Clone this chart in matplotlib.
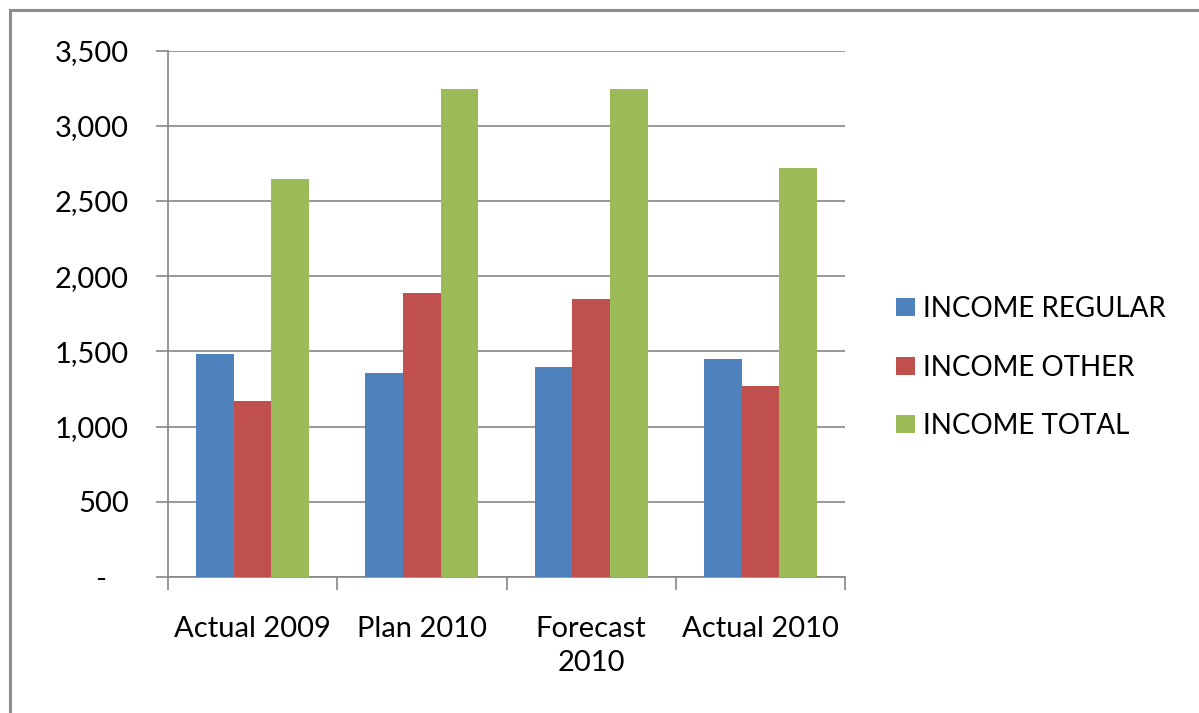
import numpy as np
import matplotlib
matplotlib.use("Agg")
import matplotlib.pyplot as plt
from matplotlib.patches import Rectangle
from matplotlib.ticker import FuncFormatter, FixedLocator

categories = ["Actual 2009", "Plan 2010", "Forecast\n2010", "Actual 2010"]
income_regular = [1480, 1355, 1397, 1450]
income_other = [1167, 1886, 1846, 1271]
income_total = [2645, 3243, 3243, 2717]
series_names = ["INCOME REGULAR", "INCOME OTHER", "INCOME TOTAL"]
colors = ["#4F81BD", "#C0504D", "#9BBB59"]

plt.rcParams['font.family'] = ['Lato', 'DejaVu Sans']

W, H = 1199, 713
fig = plt.figure(figsize=(W / 100, H / 100), dpi=100)
ax = fig.add_axes([168 / W, (H - 577) / H, (845 - 168) / W, (577 - 50.5) / H])

# outer chart border (only top and left visible in the crop)
fig.patches.append(Rectangle((10 / W, -0.2), 1.2, (H - 10) / H + 0.2,
                             transform=fig.transFigure, fill=False,
                             edgecolor="#8c8c8c", lw=2.2, zorder=10))

x = np.arange(len(categories))
bw = 1 / 4.5
for i, (vals, name, c) in enumerate(zip([income_regular, income_other, income_total],
                                         series_names, colors)):
    ax.bar(x + (i - 1) * bw, vals, width=bw, color=c, label=name, zorder=3)

ax.set_xlim(-0.5, len(categories) - 0.5)
ax.set_ylim(0, 3500)
ax.set_yticks(np.arange(0, 3501, 500))
ax.yaxis.set_major_formatter(FuncFormatter(lambda v, p: '-   ' if v == 0 else f'{v:,.0f}'))
ax.grid(axis='y', color='#868686', lw=1.2, zorder=0)

ax.set_xticks(x)
ax.set_xticklabels(categories, linespacing=1.4)
ax.xaxis.set_minor_locator(FixedLocator(np.arange(-0.5, len(categories), 1)))
ax.tick_params(axis='x', which='major', length=0, pad=28, labelsize=21)
ax.tick_params(axis='x', which='minor', length=9, width=1.2, color='#868686')
ax.tick_params(axis='y', length=9, width=1.2, color='#868686', pad=19, labelsize=21)

for s in ['top', 'right']:
    ax.spines[s].set_visible(False)
for s in ['left', 'bottom']:
    ax.spines[s].set_color('#868686')
    ax.spines[s].set_linewidth(1.2)

fig.legend(loc='center left', bbox_to_anchor=(896 / W, (H - 367.5) / H),
           frameon=False, fontsize=20, borderpad=0, borderaxespad=0,
           handlelength=0.68, handleheight=0.62, handletextpad=0.3,
           labelspacing=1.17)

fig.savefig("out.png", dpi=100)
